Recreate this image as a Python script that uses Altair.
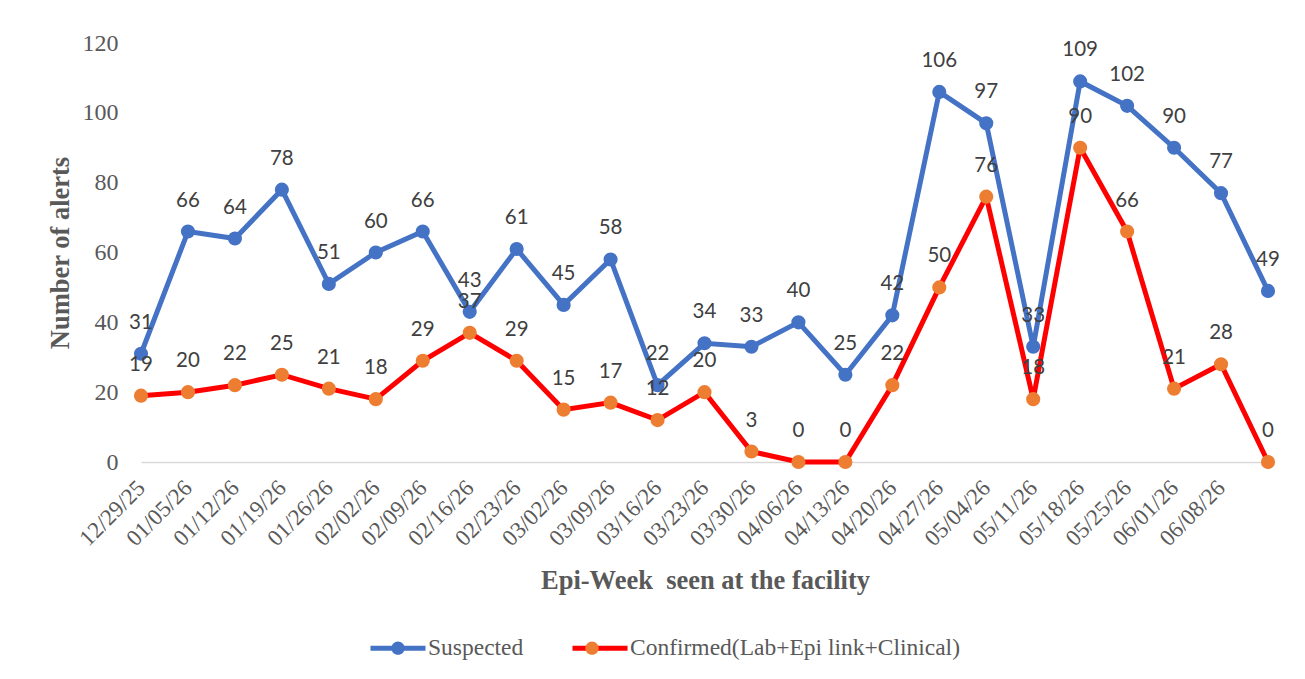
import json
import altair as alt
import pandas as pd

weeks = ["12/29/25", "01/05/26", "01/12/26", "01/19/26", "01/26/26", "02/02/26",
         "02/09/26", "02/16/26", "02/23/26", "03/02/26", "03/09/26", "03/16/26",
         "03/23/26", "03/30/26", "04/06/26", "04/13/26", "04/20/26", "04/27/26",
         "05/04/26", "05/11/26", "05/18/26", "05/25/26", "06/01/26", "06/08/26", ""]
suspected = [31, 66, 64, 78, 51, 60, 66, 43, 61, 45, 58, 22, 34, 33, 40, 25, 42,
             106, 97, 33, 109, 102, 90, 77, 49]
confirmed = [19, 20, 22, 25, 21, 18, 29, 37, 29, 15, 17, 12, 20, 3, 0, 0, 22,
             50, 76, 18, 90, 66, 21, 28, 0]
series_names = ["Suspected", "Confirmed(Lab+Epi link+Clinical)"]
line_colors = ["#4472C4", "#FF0000"]
marker_colors = ["#4472C4", "#ED7D31"]

rows = []
for i, (w, s, c) in enumerate(zip(weeks, suspected, confirmed)):
    rows.append(dict(idx=i, week=w, value=s, series=series_names[0], marker=series_names[0]))
    rows.append(dict(idx=i, week=w, value=c, series=series_names[1], marker=series_names[1]))
df = pd.DataFrame(rows)

SERIF = "Liberation Serif"
GREY = "#595959"

x_enc = alt.X(
    "idx:O",
    scale=alt.Scale(type="point", padding=0),
    axis=alt.Axis(
        labelExpr=json.dumps(weeks) + "[datum.value]",
        labelAngle=315, labelAlign="right", labelBaseline="middle",
        labelPadding=22, labelFont=SERIF, labelFontSize=23, labelColor=GREY,
        ticks=False, grid=False, domainColor="#D9D9D9", domainWidth=1.5,
        title="Epi-Week\u00a0 seen at the facility", titleFont=SERIF, titleFontSize=26.5,
        titleFontWeight="bold", titleColor=GREY, titleX=564, titleY=118,
        titleAlign="center", titleBaseline="middle",
    ),
)
y_enc = alt.Y(
    "value:Q",
    scale=alt.Scale(domain=[0, 120]),
    axis=alt.Axis(
        values=[0, 20, 40, 60, 80, 100, 120], grid=False, domain=False, ticks=False,
        labelFont=SERIF, labelFontSize=24, labelColor=GREY, labelPadding=23,
        title="Number of alerts", titleFont=SERIF, titleFontSize=26.5,
        titleFontWeight="bold", titleColor=GREY, titleX=-81, titleY=209.5,
        titleAlign="center", titleBaseline="middle",
    ),
)

legend_common = dict(
    orient="none", legendX=227, legendY=575, direction="horizontal", title=None,
    symbolSize=3025, symbolStrokeWidth=5, labelFont=SERIF, labelFontSize=23.5,
    labelColor=GREY, labelOffset=0, columnPadding=38, padding=0, labelLimit=600,
)

stroke_enc = alt.Stroke(
    "series:N",
    scale=alt.Scale(domain=series_names, range=line_colors),
    legend=alt.Legend(symbolType="M-1,0L1,0", **legend_common),
)
fill_enc = alt.Fill(
    "marker:N",
    sort=series_names,
    scale=alt.Scale(range=marker_colors),
    legend=alt.Legend(
        symbolType="M-0.24,0A0.24,0.24,0,1,0,0.24,0A0.24,0.24,0,1,0,-0.24,0Z",
        symbolStrokeColor="transparent", labelOpacity=0, **legend_common),
)

base = alt.Chart(df)
layers = []
for k, name in enumerate(series_names):
    sub = base.transform_filter(alt.datum.series == name)
    layers.append(sub.mark_line(strokeWidth=5).encode(x=x_enc, y=y_enc, stroke=stroke_enc))
    layers.append(sub.mark_point(filled=True, size=200, opacity=1, shape="circle").encode(
        x=x_enc, y=y_enc, fill=fill_enc))

labels = base.mark_text(dy=-31, font="Lato", fontSize=20.5, color="#404040").encode(
    x=x_enc, y=y_enc, text="value:Q")
layers.append(labels)

chart = alt.layer(*layers).properties(
    width=1127, height=419,
    autosize=alt.AutoSizeParams(type="none"),
    padding={"left": 133, "top": 35, "right": 20, "bottom": 210},
    background="white",
).configure_view(strokeWidth=0, stroke="transparent")

chart.save("out.html", embed_options={"renderer": "svg", "actions": False})
